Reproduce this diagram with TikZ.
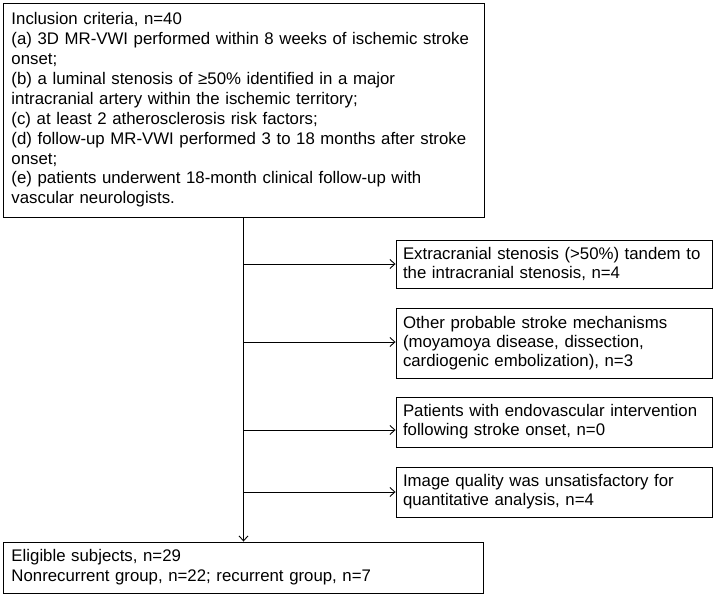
\documentclass[tikz,border=0pt]{standalone}
\usepackage{fontspec}
\setmainfont{Liberation Sans}
\usetikzlibrary{arrows.meta}
\tikzset{
  box/.style={draw,line width=0.9pt,align=left,inner xsep=8.5pt,inner ysep=0pt,
    font=\fontsize{16.8}{19.9}\selectfont},
  side/.style={box,inner xsep=7pt,text width=302pt,minimum width=316pt,font=\fontsize{16.8}{18.8}\selectfont},
  flow/.style={line width=0.9pt,-{Straight Barb[length=5pt,width=9pt]}}
}
\begin{document}
\begin{tikzpicture}[x=1pt,y=-1pt]
      \useasboundingbox (0,0) rectangle (720,596);
      \node[box,text width=464pt,minimum width=481pt,minimum height=214pt](Top) at(243.5,110) {Inclusion criteria, n=40\\
        (a) 3D MR-VWI performed within 8 weeks of ischemic stroke\\onset;\\
        (b) a luminal stenosis of ≥50\% identified in a major\\intracranial artery within the ischemic territory;\\
        (c) at least 2 atherosclerosis risk factors;\\
        (d) follow-up MR-VWI performed 3 to 18 months after stroke\\onset;\\
        (e) patients underwent 18-month clinical follow-up with\\vascular neurologists.};
      \node[box,text width=463pt,minimum width=480pt,minimum height=51pt](Bot) at(243,567.5) {Eligible subjects, n=29\\Nonrecurrent group, n=22; recurrent group, n=7};
      \foreach \n/\y/\h/\t in {
        1/264/48/{Extracranial stenosis (>50\%) tandem to\\the intracranial stenosis, n=4},
        2/343/70/{Other probable stroke mechanisms\\(moyamoya disease, dissection,\\cardiogenic embolization), n=3},
        3/422/50/{Patients with endovascular intervention\\following stroke onset, n=0},
        4/492/50/{Image quality was unsatisfactory for\\quantitative analysis, n=4}}{
        \node[side,minimum height=\h pt](S\n) at(554,\y) {\t};
      }
      \draw[flow](Top.south)--(Top.south |- Bot.north);
      \foreach \n/\y in {1/264,2/342,3/430,4/492}{
        \coordinate (T\n) at(243.5,\y);
        \draw[flow](T\n)--(T\n -| S\n.west);
      }
    \end{tikzpicture}
\end{document}
